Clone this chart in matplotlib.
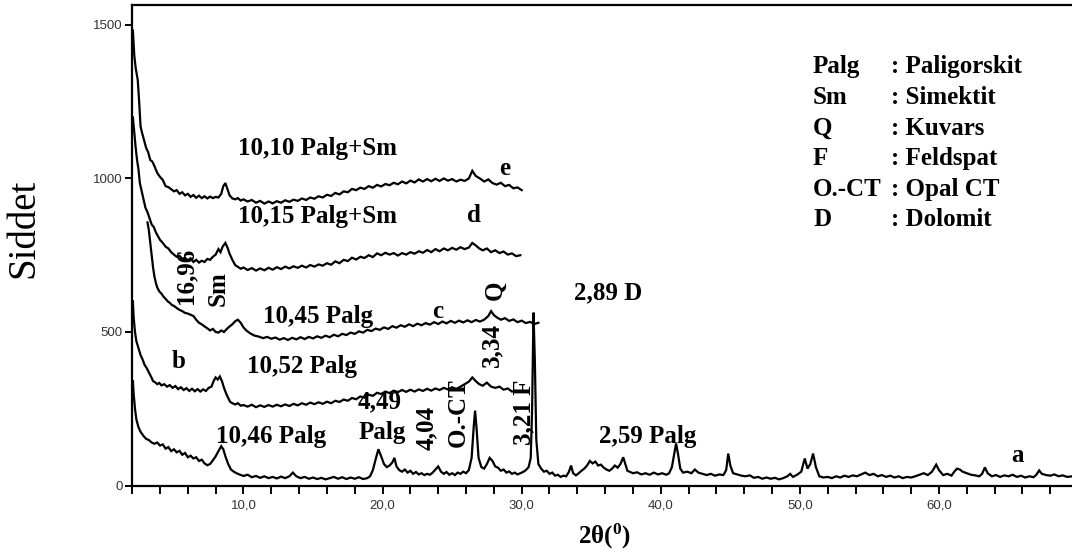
import matplotlib
matplotlib.use("Agg")
import matplotlib.pyplot as plt
from matplotlib.ticker import MultipleLocator, FixedLocator, FuncFormatter

plt.rcParams["mathtext.fontset"] = "custom"
plt.rcParams["mathtext.rm"] = "Liberation Serif:bold"
plt.rcParams["mathtext.bf"] = "Liberation Serif:bold"
plt.rcParams["mathtext.it"] = "Liberation Serif:bold"

W, H = 1072, 553

# ---------------- data (2theta, intensity) ----------------
e_x = [2.05, 2.15, 2.25, 2.4, 2.5, 2.6, 2.7, 2.85, 3.0, 3.15, 3.3, 3.45, 3.6, 3.8, 4.0, 4.2, 4.4, 4.6, 4.8, 5.0,
       5.2, 5.4, 5.6, 5.8, 6.0, 6.2, 6.4, 6.6, 6.8, 7.0, 7.2, 7.4, 7.6, 7.8, 8.0, 8.2, 8.4, 8.55, 8.7, 8.85,
       9.0, 9.2, 9.4, 9.6, 9.8, 10.0, 10.3, 10.6, 10.9, 11.2, 11.5, 11.8, 12.1, 12.4, 12.7, 13.0, 13.3, 13.6, 13.9, 14.2,
       14.5, 14.8, 15.1, 15.4, 15.7, 16.0, 16.3, 16.6, 16.9, 17.2, 17.5, 17.8, 18.1, 18.4, 18.7, 19.0, 19.3, 19.6, 19.9, 20.2,
       20.5, 20.8, 21.1, 21.4, 21.7, 22.0, 22.3, 22.6, 22.9, 23.2, 23.5, 23.8, 24.1, 24.4, 24.7, 25.0, 25.3, 25.6, 25.9, 26.2,
       26.45, 26.7, 27.0, 27.3, 27.6, 27.9, 28.2, 28.5, 28.8, 29.1, 29.4, 29.7, 30.0]
e_y = [1482, 1400, 1360, 1320, 1250, 1170, 1150, 1125, 1100, 1085, 1060, 1055, 1040, 1018, 1005, 995, 975, 972, 965, 958,
       962, 950, 955, 945, 950, 940, 946, 937, 944, 936, 942, 935, 941, 936, 940, 938, 950, 975, 985, 965,
       945, 935, 932, 936, 928, 932, 925, 930, 921, 927, 918, 925, 919, 926, 921, 929, 924, 931, 927, 935,
       930, 938, 934, 942, 938, 947, 943, 953, 948, 958, 955, 966, 962, 970, 966, 975, 970, 979, 974, 982,
       978, 986, 981, 990, 984, 993, 987, 997, 990, 998, 991, 999, 992, 1000, 993, 998, 990, 996, 992, 1000,
       1025, 1008, 1000, 990, 997, 985, 980, 986, 975, 979, 968, 971, 962]

d_x = [2.05, 2.15, 2.25, 2.35, 2.45, 2.55, 2.65, 2.8, 2.95, 3.1, 3.25, 3.4, 3.55, 3.7, 3.85, 4.0, 4.2, 4.4, 4.6, 4.8,
       5.0, 5.2, 5.4, 5.6, 5.8, 6.0, 6.2, 6.4, 6.6, 6.8, 7.0, 7.2, 7.4, 7.6, 7.8, 8.0, 8.2, 8.35, 8.5, 8.7,
       8.85, 9.0, 9.2, 9.4, 9.6, 9.8, 10.0, 10.3, 10.6, 10.9, 11.2, 11.5, 11.8, 12.1, 12.4, 12.7, 13.0, 13.3, 13.6, 13.9,
       14.2, 14.5, 14.8, 15.1, 15.4, 15.7, 16.0, 16.3, 16.6, 16.9, 17.2, 17.5, 17.8, 18.1, 18.4, 18.7, 19.0, 19.3, 19.6, 19.9,
       20.2, 20.5, 20.8, 21.1, 21.4, 21.7, 22.0, 22.3, 22.6, 22.9, 23.2, 23.5, 23.8, 24.1, 24.4, 24.7, 25.0, 25.3, 25.6, 25.9,
       26.2, 26.45, 26.7, 26.95, 27.2, 27.5, 27.8, 28.1, 28.4, 28.7, 29.0, 29.3, 29.6, 29.9]
d_y = [1199, 1150, 1100, 1060, 1030, 985, 965, 935, 905, 890, 870, 850, 842, 825, 812, 800, 790, 778, 772, 760,
       752, 745, 748, 738, 742, 732, 740, 728, 735, 726, 732, 728, 738, 735, 745, 752, 770, 760, 778, 790,
       775, 755, 735, 718, 712, 706, 710, 702, 708, 700, 707, 701, 709, 703, 711, 705, 713, 707, 714, 709,
       716, 710, 718, 713, 720, 716, 724, 719, 730, 724, 735, 731, 742, 736, 745, 741, 750, 744, 756, 750,
       758, 752, 757, 749, 757, 752, 760, 755, 763, 758, 767, 760, 770, 763, 772, 766, 774, 768, 776, 770,
       775, 790, 782, 772, 766, 772, 760, 766, 757, 762, 752, 756, 747, 750]

c_x = [3.1, 3.2, 3.3, 3.4, 3.5, 3.6, 3.7, 3.8, 3.95, 4.1, 4.25, 4.4, 4.55, 4.7, 4.85, 5.0, 5.2, 5.4, 5.6, 5.8,
       6.0, 6.2, 6.4, 6.6, 6.8, 7.0, 7.2, 7.4, 7.6, 7.8, 8.0, 8.2, 8.4, 8.6, 8.8, 9.0, 9.2, 9.4, 9.6, 9.8,
       10.0, 10.2, 10.5, 10.8, 11.1, 11.4, 11.7, 12.0, 12.3, 12.6, 12.9, 13.2, 13.5, 13.8, 14.1, 14.4, 14.7, 15.0, 15.3, 15.6,
       15.9, 16.2, 16.5, 16.8, 17.1, 17.4, 17.7, 18.0, 18.3, 18.6, 18.9, 19.2, 19.5, 19.8, 20.1, 20.4, 20.7, 21.0, 21.3, 21.6,
       21.9, 22.2, 22.5, 22.8, 23.1, 23.4, 23.7, 24.0, 24.3, 24.6, 24.9, 25.2, 25.5, 25.8, 26.1, 26.4, 26.7, 27.0, 27.3, 27.6,
       27.8, 28.0, 28.2, 28.5, 28.8, 29.1, 29.4, 29.7, 30.0, 30.3, 30.6, 30.9, 31.2]
c_y = [857, 830, 790, 750, 710, 680, 660, 645, 632, 625, 615, 608, 600, 595, 588, 585, 578, 572, 568, 562,
       560, 556, 552, 540, 530, 525, 518, 512, 505, 510, 500, 498, 505, 500, 510, 518, 525, 535, 540, 530,
       515, 505, 495, 488, 485, 480, 484, 478, 482, 475, 480, 474, 481, 476, 483, 477, 484, 479, 486, 481,
       488, 483, 491, 486, 494, 490, 498, 494, 502, 498, 507, 503, 511, 507, 515, 510, 519, 514, 522, 517,
       525, 519, 527, 522, 529, 524, 532, 526, 534, 528, 536, 530, 537, 531, 538, 532, 539, 534, 540, 552,
       568, 555, 548, 540, 545, 536, 541, 532, 537, 529, 533, 526, 530]

b_x = [2.05, 2.1, 2.2, 2.3, 2.4, 2.5, 2.6, 2.75, 2.9, 3.05, 3.2, 3.35, 3.5, 3.65, 3.8, 3.95, 4.1, 4.3, 4.5, 4.7,
       4.9, 5.1, 5.3, 5.5, 5.7, 5.9, 6.1, 6.3, 6.5, 6.7, 6.9, 7.1, 7.3, 7.5, 7.7, 7.85, 8.0, 8.15, 8.3, 8.45,
       8.6, 8.75, 8.9, 9.05, 9.2, 9.4, 9.6, 9.8, 10.0, 10.3, 10.6, 10.9, 11.2, 11.5, 11.8, 12.1, 12.4, 12.7, 13.0, 13.3,
       13.6, 13.9, 14.2, 14.5, 14.8, 15.1, 15.4, 15.7, 16.0, 16.3, 16.6, 16.9, 17.2, 17.5, 17.8, 18.1, 18.4, 18.7, 19.0, 19.3,
       19.6, 19.9, 20.2, 20.5, 20.8, 21.1, 21.4, 21.7, 22.0, 22.3, 22.6, 22.9, 23.2, 23.5, 23.8, 24.1, 24.4, 24.7, 25.0, 25.3,
       25.6, 25.9, 26.2, 26.45, 26.7, 26.95, 27.2, 27.5, 27.8, 28.1, 28.4, 28.7, 29.0, 29.3, 29.6]
b_y = [600, 550, 500, 470, 455, 440, 425, 410, 392, 382, 368, 355, 340, 336, 330, 334, 326, 330, 322, 327,
       318, 324, 314, 320, 311, 317, 308, 315, 307, 314, 306, 313, 308, 318, 322, 340, 352, 345, 355, 340,
       318, 300, 285, 272, 268, 264, 268, 260, 262, 257, 263, 255, 261, 256, 262, 257, 263, 258, 264, 259,
       266, 261, 268, 263, 270, 265, 271, 266, 273, 268, 276, 272, 280, 276, 285, 281, 290, 286, 296, 292,
       302, 298, 306, 301, 309, 304, 311, 305, 312, 306, 313, 308, 315, 309, 316, 311, 318, 313, 320, 314,
       322, 330, 338, 352, 340, 330, 325, 335, 322, 318, 322, 312, 316, 306, 308]

a_x = [2.05, 2.1, 2.2, 2.3, 2.45, 2.6, 2.8, 3.0, 3.2, 3.4, 3.6, 3.8, 4.0, 4.2, 4.4, 4.6, 4.8, 5.0, 5.2, 5.4,
       5.6, 5.8, 6.0, 6.2, 6.4, 6.6, 6.8, 7.0, 7.2, 7.4, 7.6, 7.8, 8.0, 8.2, 8.4, 8.55, 8.7, 8.9, 9.1, 9.3,
       9.5, 9.7, 10.0, 10.3, 10.6, 10.9, 11.2, 11.5, 11.8, 12.1, 12.4, 12.7, 13.0, 13.3, 13.55, 13.8, 14.1, 14.4, 14.7, 15.0,
       15.3, 15.6, 15.9, 16.2, 16.5, 16.8, 17.1, 17.4, 17.7, 18.0, 18.3, 18.6, 18.9, 19.1, 19.3, 19.5, 19.7, 19.9, 20.1, 20.3,
       20.5, 20.7, 20.85, 21.0, 21.2, 21.4, 21.6, 21.8, 22.0, 22.2, 22.4, 22.6, 22.8, 23.0, 23.2, 23.4, 23.6, 23.8, 24.0, 24.2,
       24.4, 24.6, 24.8, 25.0, 25.2, 25.4, 25.6, 25.8, 26.0, 26.2, 26.4, 26.55, 26.65, 26.75, 26.9, 27.1, 27.3, 27.5, 27.7, 27.9,
       28.1, 28.3, 28.5, 28.7, 28.9, 29.1, 29.3, 29.5, 29.7, 29.9, 30.1, 30.3, 30.5, 30.65, 30.75, 30.85, 30.95, 31.05, 31.2, 31.4,
       31.6, 31.8, 32.0, 32.2, 32.4, 32.6, 32.8, 33.0, 33.2, 33.4, 33.55, 33.7, 33.9, 34.1, 34.3, 34.5, 34.7, 34.9, 35.1, 35.3,
       35.5, 35.7, 35.9, 36.1, 36.3, 36.5, 36.7, 36.9, 37.1, 37.3, 37.45, 37.6, 37.8, 38.0, 38.3, 38.6, 38.9, 39.2, 39.5, 39.8,
       40.1, 40.4, 40.6, 40.8, 41.0, 41.1, 41.25, 41.4, 41.6, 41.9, 42.2, 42.45, 42.7, 43.0, 43.3, 43.6, 43.9, 44.2, 44.5, 44.7,
       44.85, 45.0, 45.2, 45.5, 45.8, 46.1, 46.4, 46.7, 47.0, 47.3, 47.6, 47.9, 48.2, 48.5, 48.8, 49.1, 49.3, 49.5, 49.8, 50.1,
       50.35, 50.55, 50.75, 50.95, 51.15, 51.4, 51.7, 52.0, 52.3, 52.6, 52.9, 53.2, 53.5, 53.8, 54.1, 54.4, 54.7, 55.0, 55.3, 55.6,
       55.9, 56.2, 56.5, 56.8, 57.1, 57.4, 57.7, 58.0, 58.3, 58.6, 58.9, 59.2, 59.5, 59.8, 60.0, 60.3, 60.6, 60.9, 61.1, 61.3,
       61.5, 61.7, 62.0, 62.3, 62.6, 62.9, 63.1, 63.3, 63.5, 63.8, 64.1, 64.4, 64.7, 65.0, 65.3, 65.6, 65.9, 66.2, 66.5, 66.8,
       67.0, 67.2, 67.4, 67.7, 68.0, 68.3, 68.6, 68.9, 69.2, 69.6]
a_y = [340, 300, 250, 215, 190, 175, 162, 152, 148, 140, 136, 140, 130, 134, 120, 125, 112, 118, 108, 113,
       100, 106, 92, 97, 88, 92, 80, 84, 72, 66, 70, 82, 95, 112, 128, 118, 95, 70, 52, 45,
       40, 36, 31, 35, 27, 31, 25, 30, 24, 28, 23, 29, 24, 30, 42, 30, 24, 28, 22, 26,
       21, 25, 20, 24, 28, 22, 27, 21, 26, 22, 27, 21, 24, 30, 50, 85, 118, 95, 70, 60,
       65, 75, 90, 62, 50, 45, 52, 42, 48, 38, 44, 36, 40, 34, 38, 35, 42, 52, 62, 45,
       38, 44, 35, 40, 34, 42, 38, 45, 40, 50, 90, 190, 244, 190, 90, 60, 55, 70, 90, 80,
       62, 58, 48, 52, 42, 46, 38, 42, 36, 40, 44, 50, 60, 90, 250, 563, 400, 150, 70, 55,
       45, 48, 38, 42, 32, 35, 28, 32, 30, 45, 65, 40, 33, 40, 48, 55, 65, 80, 72, 78,
       65, 68, 58, 52, 48, 55, 65, 58, 70, 92, 70, 48, 44, 40, 43, 36, 40, 35, 42, 36,
       40, 35, 40, 60, 110, 137, 100, 55, 42, 45, 40, 52, 42, 38, 34, 38, 32, 36, 34, 50,
       104, 65, 40, 36, 32, 30, 33, 25, 28, 22, 26, 22, 25, 20, 24, 30, 38, 28, 35, 45,
       88, 55, 70, 104, 60, 30, 26, 28, 24, 30, 26, 32, 28, 33, 30, 36, 42, 34, 38, 30,
       34, 28, 32, 26, 30, 24, 28, 26, 30, 35, 40, 34, 45, 68, 50, 34, 38, 32, 45, 55,
       52, 45, 40, 35, 33, 30, 38, 59, 40, 30, 34, 28, 33, 30, 35, 28, 32, 26, 30, 27,
       35, 49, 38, 34, 32, 36, 30, 33, 28, 30]

traces = [(a_x, a_y), (b_x, b_y), (c_x, c_y), (d_x, d_y), (e_x, e_y)]

x_major = [10, 20, 30, 40, 50, 60]
y_ticks = [0, 500, 1000, 1500]

legend_abbr = ["Palg", "Sm", "Q", "F", "O.-CT", "D"]
legend_name = [": Paligorskit", ": Simektit", ": Kuvars", ": Feldspat", ": Opal CT", ": Dolomit"]

# ---------------- figure ----------------
fig = plt.figure(figsize=(W / 100, H / 100), dpi=100)
ax_l, ax_r = 132.2, 1072
ax_b, ax_t = 485.5, 5
ax = fig.add_axes([ax_l / W, (H - ax_b) / H, (ax_r - ax_l) / W, (ax_b - ax_t) / H])

for xs, ys in traces:
    ax.plot(xs, ys, color="black", lw=1.6, solid_joinstyle="miter")

ax.set_xlim(2, 2 + (ax_r - ax_l) / 13.91)
ax.set_ylim(0, 1565)

for s in ["top", "left", "bottom"]:
    ax.spines[s].set_linewidth(1.6)
ax.spines["right"].set_visible(False)

ax.xaxis.set_major_locator(FixedLocator(x_major))
ax.xaxis.set_minor_locator(MultipleLocator(2))
ax.xaxis.set_major_formatter(FuncFormatter(lambda v, p: f"{v:.1f}".replace(".", ",")))
ax.yaxis.set_major_locator(FixedLocator(y_ticks))
ax.yaxis.set_minor_locator(FixedLocator([]))
ax.tick_params(axis="x", which="both", direction="out", length=6, width=1.4, pad=4,
               labelsize=9.5, labelcolor="#333333", top=False)
ax.tick_params(axis="y", which="both", direction="out", length=5, width=1.4, pad=2,
               labelsize=9.5, labelcolor="#333333", right=False)
for lab in ax.get_xticklabels() + ax.get_yticklabels():
    lab.set_family("Liberation Sans")

serif = "Liberation Serif"


def P(px, py):
    return px / W, 1 - py / H


def T(px, py, s, size=18, rot=0, weight="bold"):
    fig.text(*P(px, py), s, fontsize=size, rotation=rot, ha="center", va="center",
             family=serif, fontweight=weight, color="black")


# axis titles
T(24, 228, "Siddet", size=28, rot=90, weight="normal")
T(604, 536, "2θ($^{0}$)", size=18)

# annotations
T(317, 148, "10,10 Palg+Sm")
T(317, 217, "10,15 Palg+Sm")
T(505, 168, "e")
T(474, 215, "d")
T(186, 276, "16,96", rot=90)
T(218, 289, "Sm", rot=90)
T(318, 316, "10,45 Palg")
T(438, 312, "c")
T(495, 290, "Q", rot=90)
T(492, 345, "3,34", rot=90)
T(608, 293, "2,89 D")
T(179, 362, "b")
T(302, 366, "10,52 Palg")
T(380, 402, "4,49")
T(382, 432, "Palg")
T(426, 428, "4,04", rot=90)
T(458, 413, "O.-CT", rot=90)
T(524, 412, "3,21 F", rot=90)
T(271, 436, "10,46 Palg")
T(648, 437, "2,59 Palg")
T(1017, 456, "a")

# legend block
for i, (ab, nm) in enumerate(zip(legend_abbr, legend_name)):
    py = 67 + i * 30.6
    fig.text(*P(813, py), ab, fontsize=18, ha="left", va="center", family=serif, fontweight="bold")
    fig.text(*P(891, py), nm, fontsize=18, ha="left", va="center", family=serif, fontweight="bold")

fig.savefig("out.png", dpi=100)
